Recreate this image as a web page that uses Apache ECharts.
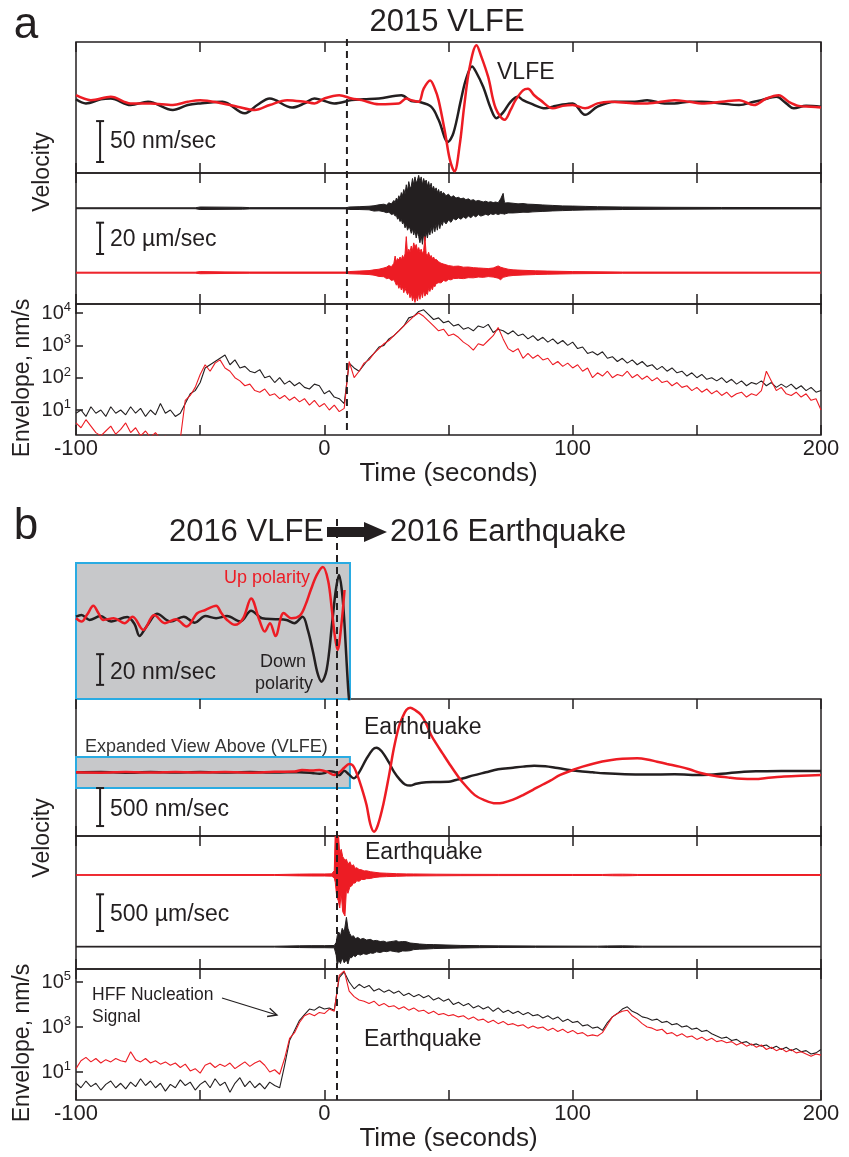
<!DOCTYPE html>
<html>
<head>
<meta charset="utf-8">
<script src="https://cdn.jsdelivr.net/npm/echarts@6/dist/echarts.min.js"></script>
<style>
  html, body { margin: 0; padding: 0; background: #fff; }
  #chart { width: 849px; height: 1157px; }
</style>
</head>
<body>
<div id="chart"></div>
<script>
/* values */
// time axis (seconds)
const timeMin = -100, timeMax = 200, timeStep = 50;
const timeLabels = [-100, 0, 100, 200];
// dashed marker times (s)
const markA = 9.1, markB = 5.1;

// (a) 2015 VLFE, long period velocity [t s, nm/s]
const velA_black = [[-100,1],[-96,-4],[-90,1],[-86,2],[-78,-6],[-71,-2],[-61,-12],[-55,-6],[-50,-4],[-41,-2],[-32,-16],[-27,-6],[-22,2],[-13,-9],[-8,-4],[-4,2],[4,-4],[11,0],[16,1],[22,2],[31,6],[35,-1],[38,-2],[43,-8],[46,-24],[49.8,-51],[52,-40],[55,0],[57,25],[59.5,41],[61,35],[64,16],[67,-10],[69.3,-22],[72,-15],[75,-2],[78,4],[80,0],[83,-4],[89,-10],[92,-8],[95,-6],[100,-4],[105,-18],[110,-8],[117,-2],[125,-2],[130,0],[137,-4],[141,-4],[147,-2],[152,-2],[160,-4],[167,-6],[173,-2],[176,0],[182,4],[186,-4],[189,-10],[194,-7],[200,-8]];
const velA_red = [[-100,6],[-94,0],[-86,4],[-78,-4],[-70,-4],[-61,-6],[-55,-2],[-50,0],[-41,-4],[-35,-8],[-28,-12],[-22,-6],[-15,0],[-8,-2],[-4,-4],[0,2],[6,6],[11,2],[15,0],[22,-5],[30,-4],[33,2],[35,0],[38,-2],[40,14],[42.6,24],[44.5,14],[46,0],[48.7,-41],[50.5,-72],[52.4,-87],[54.5,-55],[56.3,-8],[58.5,40],[61.3,67],[63,55],[66,28],[69,-10],[72.6,-24],[75,-12],[77,0],[80,12],[82,14],[84.5,6],[87,0],[92,-10],[96,-7],[100,-6],[105,-10],[110,-4],[115,-2],[125,-4],[130,-4],[141,0],[147,-2],[152,-4],[160,-2],[167,0],[173,-6],[178,2],[183,6],[187,-2],[191,-7],[196,-8],[200,-9]];

// (a) high frequency velocity, [t s, upper, lower] amplitude in µm/s
const hfA_black = [[-100,0.3,0.3],[-52,0.3,0.3],[-50,0.8,0.8],[-40,0.7,0.7],[-33,0.6,0.6],[-30,0.4,0.4],[9,0.4,0.4],[10,0.8,0.8],[14,1,0.8],[18,1.3,1.0],[20,1.6,1.8],[22,2.2,1.6],[24,2.6,2.2],[25,2.0,2.8],[26,3.5,2.5],[27,2.8,4],[28,5,3.5],[28.5,3.5,5],[29,6.5,4.5],[29.5,5,7],[30,8,6],[30.5,6,8.5],[31,10,7],[31.5,8,10],[32,12,9],[32.5,9,12.5],[33,15,10],[33.5,11,14],[34,17,12],[34.5,13,13],[35,14,16],[35.5,19,13],[36,15,17],[36.5,20,14],[37,16,19],[37.5,18,15],[38,21,18],[38.5,17,22],[39,20,17],[39.5,15,23],[40,19,16],[40.5,16,21],[41,18,15],[41.5,14,19],[42,17,14],[42.5,13,17],[43,16,12],[43.5,12,16],[44,14,11],[44.5,11,15],[45,13,10],[45.5,10,14],[46,12,9],[46.5,9,13],[47,11,9],[47.5,9,11],[48,10,8],[49,8,10],[50,9,7.5],[51,7,9],[52,8,6.5],[53,6.5,7.5],[54,7,6],[55,6,7],[56,6.5,5.5],[57,5.5,6.5],[58,6,5],[59,5,6],[60,5.5,4.5],[61,4.5,5.5],[62,5,4],[63,4.5,5],[64,4,4.5],[65,4.5,3.8],[66,3.8,4.5],[67,4.2,3.5],[68,3.6,4],[69,4,3.4],[70,3.5,4],[71,6,3.4],[72,9.5,3.5],[72.5,4,3.8],[73,3.4,3.5],[74,3.5,3],[76,3.2,3],[78,2.8,2.8],[80,3,2.5],[82,2.6,2.6],[84,2.5,2.3],[88,2.1,2],[92,1.8,1.7],[96,1.5,1.5],[100,1.4,1.3],[105,1.2,1.1],[110,1,1],[120,0.8,0.8],[140,0.6,0.6],[160,0.5,0.5],[200,0.4,0.4]];
const hfA_red = [[-100,0.3,0.3],[-52,0.3,0.3],[-50,0.7,0.7],[-40,0.5,0.5],[-30,0.4,0.4],[9,0.4,0.4],[10,0.7,0.7],[14,1,0.9],[18,1.3,1.2],[20,1.8,1.6],[22,2.2,2.4],[24,3,2.6],[25,3.5,3.8],[26,4.5,3.5],[27,3.8,5],[28,6,4.5],[28.5,10.6,6],[29,7,8],[29.5,9,7],[30,8,10],[30.5,10,8],[31,8,11],[31.5,11,9],[32,9,12.8],[32.5,12,10],[33,23,12],[33.5,12,14],[34,15,12],[34.5,13,16],[35,17,13],[35.5,14,18],[36,19,15],[36.5,16,19],[37,18,15],[37.5,14,18],[38,16,13],[38.5,13,17],[39,15,12],[39.5,12,16],[40,14,11],[40.5,23,15],[41,12,13],[41.5,11,14],[42,13,10],[42.5,10,12],[43,11,9],[43.5,9,11],[44,10,8],[44.5,8,9],[45,8.5,7],[46,7,6.4],[47,6,6.5],[48,5.5,5],[49,5,5.5],[50,4.5,4.3],[51,4.3,4.6],[52,4,3.8],[54,4.2,3.6],[56,3.5,3.8],[58,3.6,3.2],[60,3.2,3.3],[62,3,2.8],[64,2.8,3],[66,2.6,2.5],[68,3,2.8],[70,4.3,3.5],[71,3.5,4.5],[72,3,3],[74,2.2,2.2],[76,1.8,1.8],[80,1.5,1.5],[85,1.2,1.2],[90,1,1],[100,0.7,0.7],[120,0.4,0.4],[200,0.3,0.3]];

// envelopes, log10(nm/s), one sample every 2 s from -100 s
const envT0 = -100, envDt = 2;
const envA_black = [
  0.9, 1.0, 0.8, 1.1, 0.9, 1.0, 0.8, 1.1, 0.9, 1.0,
  0.85, 1.1, 0.9, 1.05, 0.8, 1.0, 0.85, 1.2, 0.9, 1.0,
  0.8, 0.9, 1.2, 1.5, 1.6, 1.85, 2.3, 2.4, 2.5, 2.6,
  2.7, 2.4, 2.55, 2.3, 2.35, 2.2, 2.15, 2.25, 2.0, 2.05,
  1.85, 2.0, 1.8, 1.9, 1.75, 1.85, 1.7, 1.65, 1.8, 1.75,
  1.5, 1.6, 1.4, 1.35, 1.2, 2.45, 2.3, 2.2, 2.4, 2.6,
  2.75, 2.95, 3.0, 3.2, 3.3, 3.45, 3.6, 3.85, 3.9, 4.05,
  4.1, 3.95, 3.8, 3.85, 3.7, 3.75, 3.6, 3.65, 3.5, 3.55,
  3.45, 3.6, 3.55, 3.65, 3.4, 3.5, 3.45, 3.35, 3.45, 3.3,
  3.35, 3.2, 3.3, 3.15, 3.25, 3.1, 3.2, 3.05, 3.15, 3.0,
  3.1, 2.9, 2.95, 2.75, 2.8, 2.7, 2.8, 2.6, 2.65, 2.5,
  2.6, 2.45, 2.55, 2.4, 2.5, 2.35, 2.4, 2.25, 2.35, 2.2,
  2.3, 2.15, 2.2, 2.05, 2.15, 2.0, 2.1, 1.95, 2.0, 1.9,
  2.0, 1.85, 1.95, 1.8, 1.9, 1.75, 1.85, 1.8, 1.9, 1.75,
  1.85, 1.7, 1.8, 1.7, 1.8, 1.65, 1.75, 1.6, 1.7, 1.55,
  1.6
];
const envA_red = [
  0.6, 0.45, 0.7, 0.5, 0.3, 0.2, 0.35, 0.5, 0.25, 0.4,
  0.6, 0.3, 0.45, 0.2, 0.35, 0.15, 0.3, 0.1, 0.2, 0.1,
  0.15, 0.1, 1.3, 1.45, 1.7, 2.1, 2.4, 2.2, 2.45, 2.55,
  2.3, 2.2, 2.0, 1.9, 1.75, 1.8, 1.6, 1.55, 1.65, 1.45,
  1.5, 1.35, 1.45, 1.3, 1.4, 1.25, 1.35, 1.15, 1.3, 1.1,
  1.2, 1.0, 1.15, 0.95, 1.05, 2.5, 2.0, 2.2, 2.45, 2.55,
  2.75, 2.9, 3.05, 3.15, 3.3, 3.45, 3.6, 3.75, 3.9, 4.0,
  3.9, 3.75, 3.6, 3.45, 3.5, 3.3, 3.35, 3.25, 3.1, 3.0,
  2.85, 3.05, 3.0, 3.15, 3.3, 3.55, 3.2, 2.9, 2.8, 2.9,
  2.6, 2.75, 2.6, 2.7, 2.55, 2.6, 2.4, 2.5, 2.35, 2.45,
  2.3, 2.4, 2.2, 2.3, 2.0, 2.15, 2.05, 2.2, 2.0, 2.1,
  2.05, 2.2, 2.0, 2.1, 1.95, 2.05, 1.9, 2.0, 1.85, 1.9,
  1.75, 1.85, 1.7, 1.75, 1.6, 1.7, 1.55, 1.65, 1.5, 1.6,
  1.45, 1.55, 1.4, 1.5, 1.55, 1.4, 1.5, 1.45, 1.6, 2.2,
  1.9, 1.6, 1.7, 1.5, 1.45, 1.55, 1.4, 1.5, 1.3, 1.35,
  1.0
];

// (b) expanded VLFE view, [t s, nm/s]
const insetB_black = [[-100,0.6],[-97.8,1.7],[-94.6,-1.5],[-90.2,1.0],[-85.9,-2.5],[-79.4,0.4],[-76.5,-4],[-74.4,-12],[-72.5,-8],[-70.7,-3.6],[-67.4,2.5],[-62,-2.5],[-56.6,0.6],[-52.2,-3.3],[-47.9,1.0],[-43.6,-0.4],[-39.2,1.0],[-33.8,-2.5],[-29.5,4.5],[-25.1,-0.4],[-19.7,-1.0],[-15.3,-1.5],[-12.1,-3.6],[-8.8,0.6],[-6.7,-8],[-4.5,-23],[-2.8,-36],[-1.2,-41.7],[0.9,-34],[3.1,-3.6],[4.6,18],[5.9,27.8],[7.0,18],[7.9,0.6],[8.8,-25],[9.6,-47],[10.3,-60]];
const insetB_red = [[-100,-0.4],[-97.8,-2.5],[-95.5,2],[-93,7.7],[-91,3],[-89,-1.5],[-84.8,-0.4],[-80.5,-3.6],[-77.2,0.6],[-72.9,-8],[-68.5,1.7],[-64.2,-3.6],[-59.8,-1.0],[-55.5,-5.8],[-51.2,2.9],[-47.9,5.0],[-43.6,7.7],[-41.5,3],[-39.2,-1.5],[-36,-4.7],[-32.7,-0.4],[-29.5,12.5],[-26.2,-1.5],[-24,-9.1],[-21.9,-3.6],[-19.7,-12],[-16.4,3],[-13.2,-0.4],[-9.9,1.3],[-7.7,8],[-5.5,18],[-3,28],[-0.6,33],[1.5,24],[3,5],[4.2,-12],[5.3,-21],[6.8,-5],[8.1,18]];

// (b) 2016 long period velocity [t s, nm/s]
const velB_black = [[-100,0],[-90,5],[-80,-5],[-70,3],[-60,-3],[-50,4],[-40,-2],[-30,5],[-20,-3],[-10,2],[-5,-8],[-2,-20],[0,-10],[2,15],[4,5],[6,-40],[8,20],[10,-30],[11.8,-79],[14,0],[17,180],[19.5,300],[21,324],[23,280],[26,130],[28,10],[30.5,-100],[32.5,-160],[34.6,-175],[37,-150],[41,-131],[45,-128],[50,-125],[53,-100],[56,-79],[60,-40],[65,0],[70,40],[76,61],[80,75],[84.5,88],[89,80],[93,61],[98,35],[102,18],[108,0],[112.7,-13],[121,-26],[130,-30],[141,-26],[152,-35],[160,-20],[169,9],[176,14],[184,18],[192,18],[200,18]];
const velB_red = [[-100,0],[-90,-5],[-80,5],[-70,-3],[-60,5],[-50,-3],[-40,5],[-30,-4],[-20,8],[-12,10],[-9,31],[-5,25],[-2,31],[1,10],[4,-35],[6,0],[8,60],[10,110],[11.5,90],[13,-10],[15,-200],[17,-430],[18.5,-680],[20,-781],[21.5,-700],[23.7,-430],[26,-50],[28,316],[30,600],[31.3,711],[33,820],[34.6,851],[36.5,820],[39,755],[41,640],[43,491],[45,380],[47.6,250],[50,130],[54,-60],[57,-180],[60.6,-300],[64,-360],[69,-408],[72,-400],[76,-360],[80,-300],[84,-230],[88,-160],[91,-110],[95,-35],[100,30],[104,75],[109,120],[115,158],[120,178],[126,184],[130,170],[134,140],[138,110],[143,75],[147,40],[152,-13],[157,-45],[163,-70],[168,-85],[173.5,-88],[178,-75],[184,-57],[192,-45],[200,-35]];

// (b) high frequency velocity, [t s, upper, lower] in µm/s
const hfB_red = [[-100,5,5],[-20,6,6],[-10,12,12],[-5,14,14],[0,14,14],[3,16,16],[4,60,40],[4.4,600,100],[5,650,300],[5.6,600,350],[6.2,300,450],[6.8,350,250],[7.4,250,500],[8.3,200,558],[8.9,213,200],[9.5,150,250],[10.3,180,160],[11,120,150],[11.7,140,110],[12.4,90,110],[13,100,80],[14,75,85],[15,70,60],[16,55,62],[17,58,50],[18.5,45,48],[20,38,35],[22.4,28,26],[25,24,22],[29,18,18],[33,15,14],[36,14,13],[45,11,11],[55,9,9],[70,8,8],[100,7,7],[112,7,7],[116,10,10],[120,11,11],[124,9,9],[126,7,7],[200,6,6]];
const hfB_black = [[-100,5,5],[-20,6,6],[-10,12,12],[-5,14,14],[0,14,14],[4,16,16],[4.8,60,120],[5.2,150,259],[5.8,200,180],[6.5,150,230],[7.2,250,150],[8,200,220],[8.9,400,180],[9.5,250,236],[10.2,180,150],[11,136,150],[11.7,150,120],[12.5,110,136],[13.5,125,100],[14.5,100,115],[15.7,113,95],[17,90,105],[18.5,100,85],[19.7,80,91],[21,85,70],[22.5,70,80],[24,75,62],[25,60,68],[26.5,68,55],[28,75,65],[29,82,70],[30,65,75],[31.5,70,58],[33,68,60],[34.5,50,55],[36,45,40],[38.4,36,34],[41,30,32],[44,28,26],[49,23,22],[55,17,18],[62.5,14,14],[70,11,11],[85,9,9],[110,7,7],[114,10,10],[120,11,11],[125,9,9],[128,7,7],[200,5,5]];

const envB_black = [
  0.5, 0.3, 0.6, 0.35, 0.5, 0.2, 0.45, 0.6, 0.3, 0.5,
  0.25, 0.55, 0.35, 0.7, 0.4, 0.6, 0.3, 0.5, 0.15, 0.45,
  0.3, 0.65, 0.4, 0.55, 0.2, 0.45, 0.6, 0.3, 0.7, 0.4,
  0.55, 0.1, 0.5, 0.75, 0.35, 0.6, 0.3, 0.5, 0.25, 0.55,
  0.4, 0.3, 1.3, 2.4, 2.85, 3.3, 3.55, 3.8, 3.75, 3.9,
  3.8, 3.85, 3.75, 5.2, 5.45, 5.0, 4.7, 4.9, 4.75, 4.85,
  4.6, 4.7, 4.55, 4.65, 4.5, 4.6, 4.4, 4.5, 4.35, 4.45,
  4.3, 4.4, 4.2, 4.3, 4.15, 4.25, 4.0, 4.1, 3.95, 4.05,
  3.85, 3.95, 3.8, 3.9, 3.7, 3.85, 3.65, 3.75, 3.6, 3.7,
  3.55, 3.65, 3.5, 3.55, 3.4, 3.5, 3.35, 3.45, 3.25, 3.35,
  3.2, 3.25, 3.05, 3.1, 2.95, 3.0, 2.85, 3.2, 3.45, 3.6,
  3.8, 3.9, 3.7, 3.6, 3.45, 3.4, 3.3, 3.35, 3.2, 3.25,
  3.1, 3.15, 3.0, 3.05, 2.9, 2.95, 2.8, 2.85, 2.7, 2.6,
  2.5, 2.55, 2.4, 2.45, 2.3, 2.35, 2.2, 2.25, 2.15, 2.2,
  2.05, 2.15, 2.0, 2.1, 1.95, 2.05, 1.9, 1.95, 1.8, 1.85,
  2.0
];
const envB_red = [
  1.15, 1.5, 1.65, 1.45, 1.6, 1.4, 1.55, 1.45, 1.6, 1.5,
  1.45, 1.9, 1.55, 1.45, 1.6, 1.4, 1.5, 1.35, 1.45, 1.3,
  1.4, 1.2, 1.35, 1.05, 1.15, 0.95, 1.3, 1.4, 1.2, 1.35,
  1.25, 1.4, 1.15, 1.3, 1.45, 1.25, 1.4, 1.5, 1.3, 1.0,
  1.1, 0.9, 1.6, 2.5, 2.75, 3.2, 3.5, 3.6, 3.5, 3.65,
  3.6, 3.8, 3.7, 5.3, 5.5, 4.6, 4.35, 4.2, 4.15, 4.05,
  4.15, 3.95, 4.05, 3.9, 3.95, 3.8, 3.9, 3.75, 3.85, 3.7,
  3.75, 3.6, 3.7, 3.55, 3.6, 3.5, 3.55, 3.45, 3.5, 3.35,
  3.45, 3.3, 3.35, 3.2, 3.3, 3.15, 3.25, 3.1, 3.15, 3.05,
  3.1, 2.95, 3.05, 2.95, 3.0, 2.85, 2.95, 2.8, 2.9, 2.75,
  2.85, 2.7, 2.75, 2.6, 2.65, 2.6, 2.75, 3.1, 3.45, 3.6,
  3.7, 3.75, 3.5, 3.35, 3.15, 3.0, 2.95, 2.85, 2.9, 2.7,
  2.75, 2.6, 2.7, 2.55, 2.6, 2.45, 2.55, 2.4, 2.5, 2.35,
  2.4, 2.3, 2.35, 2.2, 2.3, 2.15, 2.25, 2.1, 2.2, 2.0,
  2.1, 1.95, 2.05, 1.9, 2.0, 1.85, 1.9, 1.8, 1.7, 1.8,
  1.75
];

// decade ticks (log10) on the envelope panels
const envTicksA = [1, 2, 3, 4];
const envTicksB = [1, 3, 5];

/* layout */
const INK = '#231f20', RED = '#ed1c24', GREY = '#c7c8ca', BLUE = '#29abe2';
const FONT = '"Liberation Sans", Arial, Helvetica, sans-serif';
const L = 76, W = 745;
// grids: 0 a-vel, 1 a-hf, 2 a-env, 3 b-vel, 4 b-hf, 5 b-env, 6 inset
const panels = [
  { top: 42, height: 131, min: -89, max: 71 },
  { top: 173, height: 131, min: 0, max: 83.6 },
  { top: 304, height: 131, min: 0.226, max: 4.28 },
  { top: 699, height: 137, min: -838, max: 965 },
  { top: 836, height: 133, min: 0, max: 1811 },
  { top: 969, height: 131, min: -0.244, max: 5.58 }
];
const inset = { left: 76, width: 274, top: 563, height: 136, xmax: 10.3, min: -53, max: 35.6 };
const barT = -90.3;

function envPoints(vals) {
  return vals.map((v, i) => [envT0 + i * envDt, v]);
}

function tickStyle() {
  return { inside: true, length: 10, lineStyle: { color: INK, width: 1.5 } };
}

function timeAxes(gi, withLabels) {
  let bottom = {
    gridIndex: gi, type: 'value', position: 'bottom',
    min: timeMin, max: timeMax, interval: timeStep,
    axisLine: { show: false, onZero: false }, splitLine: { show: false },
    axisTick: tickStyle(),
    axisLabel: {
      show: withLabels, margin: 3, color: INK, fontFamily: FONT, fontSize: 22,
      formatter: v => (timeLabels.indexOf(v) >= 0 ? String(v) : '')
    }
  };
  if (withLabels) {
    bottom.name = 'Time (seconds)';
    bottom.nameLocation = 'middle';
    bottom.nameGap = 15;
    bottom.nameTextStyle = { color: INK, fontFamily: FONT, fontSize: 26, verticalAlign: 'top' };
  }
  let top = {
    gridIndex: gi, type: 'value', position: 'top',
    min: timeMin, max: timeMax, interval: timeStep,
    axisLine: { show: false, onZero: false }, splitLine: { show: false },
    axisTick: tickStyle(), axisLabel: { show: false }
  };
  return [bottom, top];
}

function plainY(gi, p) {
  return {
    gridIndex: gi, type: 'value', min: p.min, max: p.max, show: false,
    axisLine: { onZero: false }, splitLine: { show: false }
  };
}

function envY(gi, p, ticks) {
  return {
    gridIndex: gi, type: 'value', min: p.min, max: p.max,
    axisLine: { show: false, onZero: false }, splitLine: { show: false },
    axisTick: { inside: true, length: 7, customValues: ticks, lineStyle: { color: INK, width: 1.5 } },
    axisLabel: {
      customValues: ticks, margin: 5,
      formatter: v => '{b|10}{s|' + v + '}',
      rich: {
        b: { fontSize: 20, fontFamily: FONT, color: INK, lineHeight: 24 },
        s: { fontSize: 13, fontFamily: FONT, color: INK, lineHeight: 24, verticalAlign: 'top' }
      }
    }
  };
}

function traceLine(xi, yi, data, color, width, z) {
  return {
    type: 'line', xAxisIndex: xi, yAxisIndex: yi, data: data,
    showSymbol: false, smooth: width > 2 ? 0.35 : false, silent: true, z: z || 3,
    lineStyle: { color: color, width: width }
  };
}

// high frequency trace drawn as its amplitude band around a baseline
function hfBand(xi, yi, trace, offset, color) {
  return {
    type: 'custom', xAxisIndex: xi, yAxisIndex: yi, clip: true, silent: true, z: 3,
    data: [[trace[0][0], offset]],
    renderItem: function (params, api) {
      let pts = [];
      trace.forEach(d => pts.push(api.coord([d[0], offset + d[1]])));
      for (let i = trace.length - 1; i >= 0; i--) {
        pts.push(api.coord([trace[i][0], offset - trace[i][2]]));
      }
      return { type: 'polygon', shape: { points: pts }, style: { fill: color, stroke: color, lineWidth: 1 } };
    }
  };
}

function scaleBar(xi, yi, v0, v1) {
  return {
    type: 'custom', xAxisIndex: xi, yAxisIndex: yi, silent: true, z: 5,
    data: [[barT, v0, v1]],
    renderItem: function (params, api) {
      const a = api.coord([api.value(0), api.value(1)]);
      const b = api.coord([api.value(0), api.value(2)]);
      const s = { stroke: INK, lineWidth: 2 };
      return {
        type: 'group', children: [
          { type: 'line', shape: { x1: a[0], y1: a[1], x2: b[0], y2: b[1] }, style: s },
          { type: 'line', shape: { x1: a[0] - 4, y1: a[1], x2: a[0] + 4, y2: a[1] }, style: s },
          { type: 'line', shape: { x1: b[0] - 4, y1: b[1], x2: b[0] + 4, y2: b[1] }, style: s }
        ]
      };
    }
  };
}

// grey box marking the expanded window in the b velocity panel
function windowBox(xi, yi, box) {
  return {
    type: 'custom', xAxisIndex: xi, yAxisIndex: yi, silent: true, z: 1,
    data: [box],
    renderItem: function (params, api) {
      const p0 = api.coord([api.value(0), api.value(1)]);
      const p1 = api.coord([api.value(2), api.value(3)]);
      return {
        type: 'rect',
        shape: { x: p0[0], y: p1[1], width: p1[0] - p0[0], height: p0[1] - p1[1] },
        style: { fill: GREY, stroke: BLUE, lineWidth: 2 }
      };
    }
  };
}

let grids = panels.map(p => ({
  left: L, width: W, top: p.top, height: p.height, show: true,
  borderColor: INK, borderWidth: 1.5, backgroundColor: 'transparent'
}));
grids.push({
  left: inset.left, width: inset.width, top: inset.top, height: inset.height, show: true,
  borderColor: BLUE, borderWidth: 2, backgroundColor: GREY
});

let xAxes = [];
panels.forEach((p, gi) => { xAxes = xAxes.concat(timeAxes(gi, gi === 2 || gi === 5)); });
xAxes.push({ gridIndex: 6, type: 'value', min: timeMin, max: inset.xmax, show: false, axisLine: { onZero: false } });

let yAxes = [
  plainY(0, panels[0]), plainY(1, panels[1]), envY(2, panels[2], envTicksA),
  plainY(3, panels[3]), plainY(4, panels[4]), envY(5, panels[5], envTicksB),
  plainY(6, inset)
];

let series = [
  // a: velocity
  traceLine(0, 0, velA_black, INK, 2.5),
  traceLine(0, 0, velA_red, RED, 2.5, 4),
  scaleBar(0, 0, -75.6, -25.6),
  // a: high frequency (black above, red below)
  hfBand(2, 1, hfA_black, 61.1, INK),
  hfBand(2, 1, hfA_red, 20.0, RED),
  scaleBar(2, 1, 31.9, 51.9),
  // a: envelope
  traceLine(4, 2, envPoints(envA_black), INK, 1.1),
  traceLine(4, 2, envPoints(envA_red), RED, 1.1, 4),
  // b: velocity
  windowBox(6, 3, [timeMin, -207, inset.xmax, 201]),
  traceLine(6, 3, velB_black, INK, 2.5),
  traceLine(6, 3, velB_red, RED, 2.5, 4),
  scaleBar(6, 3, -707, -207),
  // b: high frequency (red above, black below)
  hfBand(8, 4, hfB_red, 1280, RED),
  hfBand(8, 4, hfB_black, 304, INK),
  scaleBar(8, 4, 517, 1017),
  // b: envelope
  traceLine(10, 5, envPoints(envB_black), INK, 1.1),
  traceLine(10, 5, envPoints(envB_red), RED, 1.1, 4),
  // b: expanded VLFE
  traceLine(12, 6, insetB_black, INK, 2.5),
  traceLine(12, 6, insetB_red, RED, 2.5, 4),
  scaleBar(12, 6, -43.8, -23.8)
];

let option = {
  animation: false,
  backgroundColor: '#fff',
  grid: grids,
  xAxis: xAxes,
  yAxis: yAxes,
  series: series
};

let myChart = echarts.init(document.getElementById('chart'), null, { renderer: 'canvas' });
myChart.setOption(option);

function txt(x, y, text, size, opts) {
  opts = opts || {};
  return {
    type: 'text', x: x, y: y, rotation: opts.rotation || 0, z: 50,
    style: {
      text: text, x: 0, y: 0, fill: opts.color || INK,
      font: size + 'px ' + FONT,
      align: opts.align || 'left', textAlign: opts.align || 'left',
      verticalAlign: 'middle', textVerticalAlign: 'middle'
    }
  };
}

function dashed(x, y1, y2) {
  return {
    type: 'line', z: 60,
    shape: { x1: x, y1: y1, x2: x, y2: y2 },
    style: { stroke: INK, lineWidth: 2, lineDash: [7, 5] }
  };
}

const xA = myChart.convertToPixel({ xAxisIndex: 0 }, markA);
const xB = myChart.convertToPixel({ xAxisIndex: 6 }, markB);

// HFF arrow
const ax1 = 222, ay1 = 998, ax2 = 277, ay2 = 1015;
const ang = Math.atan2(ay2 - ay1, ax2 - ax1);
function headPt(da) {
  return [ax2 - 10 * Math.cos(ang + da), ay2 - 10 * Math.sin(ang + da)];
}

let graphics = [
  txt(26, 26, 'a', 44, { align: 'center' }),
  txt(447, 22, '2015 VLFE', 31, { align: 'center' }),
  txt(497, 73, 'VLFE', 23),
  txt(110, 142, '50 nm/sec', 23),
  txt(110, 240, '20 µm/sec', 23),
  txt(43, 172, 'Velocity', 23, { align: 'center', rotation: Math.PI / 2 }),
  txt(23, 378, 'Envelope, nm/s', 23, { align: 'center', rotation: Math.PI / 2 }),

  txt(26, 527, 'b', 44, { align: 'center' }),
  txt(324, 532, '2016 VLFE', 31, { align: 'right' }),
  txt(390, 532, '2016 Earthquake', 31),
  {
    type: 'polygon', z: 50,
    shape: { points: [[327, 527], [364, 527], [364, 522], [387, 532], [364, 542], [364, 537], [327, 537]] },
    style: { fill: INK }
  },
  txt(224, 578, 'Up polarity', 18, { color: RED }),
  txt(283, 662, 'Down', 18, { align: 'center' }),
  txt(284, 684, 'polarity', 18, { align: 'center' }),
  txt(110, 673, '20 nm/sec', 23),
  txt(364, 728, 'Earthquake', 23),
  txt(85, 747, 'Expanded View Above (VLFE)', 18, { color: '#333' }),
  txt(110, 810, '500 nm/sec', 23),
  txt(43, 838, 'Velocity', 23, { align: 'center', rotation: Math.PI / 2 }),
  txt(365, 853, 'Earthquake', 23),
  txt(110, 915, '500 µm/sec', 23),
  txt(92, 995, 'HFF Nucleation', 17.5),
  txt(92, 1017, 'Signal', 17.5),
  txt(364, 1040, 'Earthquake', 23),
  txt(23, 1043, 'Envelope, nm/s', 23, { align: 'center', rotation: Math.PI / 2 }),
  {
    type: 'polyline', z: 50,
    shape: { points: [[ax1, ay1], [ax2, ay2]] },
    style: { stroke: INK, lineWidth: 1.3, fill: null }
  },
  {
    type: 'polyline', z: 50,
    shape: { points: [headPt(0.45), [ax2, ay2], headPt(-0.45)] },
    style: { stroke: INK, lineWidth: 1.3, fill: null }
  },
  dashed(xA, 39, 435),
  dashed(xB, 519, 1100)
];

myChart.setOption({ graphic: { elements: graphics } });
</script>
</body>
</html>
